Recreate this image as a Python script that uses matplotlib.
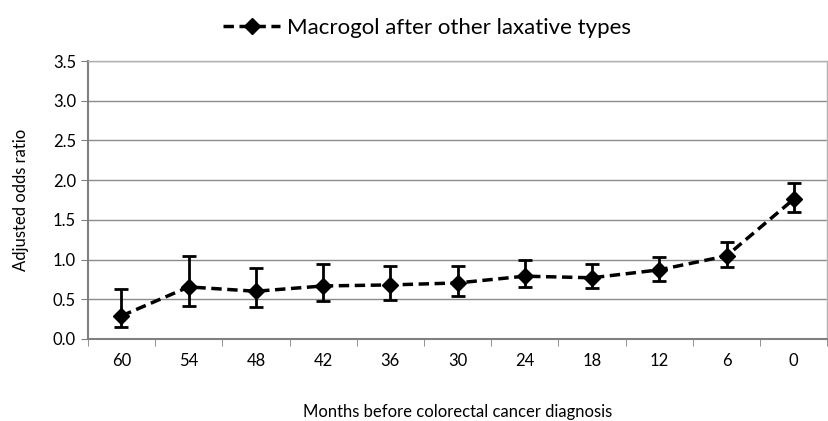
import matplotlib
matplotlib.use("Agg")
import matplotlib.pyplot as plt
import numpy as np

months = ["60", "54", "48", "42", "36", "30", "24", "18", "12", "6", "0"]
odds = [0.29, 0.655, 0.60, 0.667, 0.68, 0.705, 0.79, 0.77, 0.87, 1.045, 1.76]
upper = [0.63, 1.045, 0.89, 0.945, 0.92, 0.92, 1.00, 0.945, 1.03, 1.22, 1.96]
lower = [0.15, 0.415, 0.40, 0.48, 0.49, 0.54, 0.65, 0.64, 0.73, 0.91, 1.60]

plt.rcParams['font.family'] = ['Lato', 'DejaVu Sans']

fig = plt.figure(figsize=(8.29, 4.21), dpi=100)
ax = fig.add_axes([0.106, 0.195, 0.892, 0.66])

x = np.arange(len(months))
odds_a = np.array(odds)
yerr = [odds_a - np.array(lower), np.array(upper) - odds_a]
ax.errorbar(x, odds, yerr=yerr, fmt='none', ecolor='black', elinewidth=2, capsize=5, capthick=2, zorder=3)
ax.plot(x, odds, linestyle=(0, (3, 1.6)), color='black', linewidth=2.5, marker='D', markersize=8,
        label='Macrogol after other laxative types', zorder=4)

ax.set_xlim(-0.5, len(months) - 0.5)
ax.set_ylim(0, 3.5)
ax.set_yticks(np.arange(0, 3.51, 0.5))
ax.set_yticklabels([f"{v:.1f}" for v in np.arange(0, 3.51, 0.5)])
ax.set_xticks(x)
ax.set_xticklabels(months)
ax.set_xticks(np.arange(-0.5, len(months), 1), minor=True)
ax.tick_params(axis='x', which='major', length=0, pad=10, labelsize=12)
ax.tick_params(axis='x', which='minor', length=5, color='#808080')
ax.tick_params(axis='y', length=5, color='#808080', labelsize=12)
ax.yaxis.grid(True, color='#8c8c8c', linewidth=1)
ax.set_axisbelow(True)
for s in ['left', 'bottom']:
    ax.spines[s].set_color('#808080')
    ax.spines[s].set_linewidth(1.5)
for s in ['top', 'right']:
    ax.spines[s].set_color('#b0b0b0')
    ax.spines[s].set_linewidth(1)

ax.set_ylabel('Adjusted odds ratio', fontsize=12, labelpad=17)
ax.set_xlabel('Months before colorectal cancer diagnosis', fontsize=12, labelpad=25)

fig.legend(loc='upper center', bbox_to_anchor=(0.515, 1.005), frameon=False, fontsize=16,
           handlelength=2.6, handletextpad=0.3)

fig.savefig('out.png', dpi=100)
